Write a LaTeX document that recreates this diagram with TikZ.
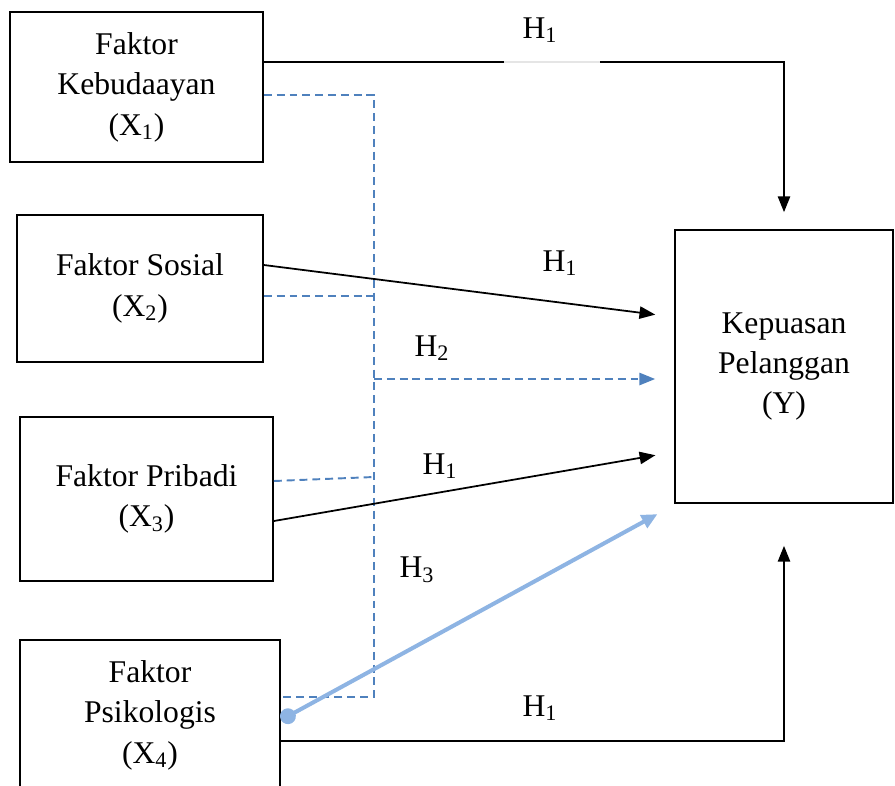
\documentclass[tikz,border=0pt]{standalone}
\usepackage{fontspec}
\setmainfont{Liberation Serif}
\usetikzlibrary{arrows.meta,positioning}
\definecolor{dashblue}{HTML}{4F81BD}
\definecolor{lightblue}{HTML}{8EB4E3}
\tikzset{
  faktor/.style={draw,line width=1pt,align=center,inner sep=0pt,font=\fontsize{18}{23}\selectfont},
  hlabel/.style={font=\fontsize{18}{23}\selectfont,inner sep=1pt},
  link/.style={line width=1pt,-{Triangle[length=9pt,width=7pt]}},
  dashlink/.style={dashblue,line width=1.1pt,dash pattern=on 4.5pt off 2.8pt},
}
\newcommand{\hyp}[1]{H\textsubscript{#1}}
\begin{document}
\begin{tikzpicture}[x=0.02cm,y=-0.02cm]
  \useasboundingbox (0,0) rectangle (895,785);
  \node[faktor,minimum width=5.06cm,minimum height=3cm] (X1) at (136.5,87) {Faktor\\Kebudaayan\\(X\textsubscript{1})};
  \node[faktor,minimum width=4.92cm,minimum height=2.94cm] (X2) at (140,288.5) {Faktor Sosial\\(X\textsubscript{2})};
  \node[faktor,minimum width=5.06cm,minimum height=3.28cm] (X3) at (146.5,499) {Faktor Pribadi\\(X\textsubscript{3})};
  \node[faktor,minimum width=5.2cm,minimum height=3cm] (X4) at (150,715) {Faktor\\Psikologis\\(X\textsubscript{4})};
  \node[faktor,minimum width=4.36cm,minimum height=5.46cm] (Y) at (784,366.5) {Kepuasan\\Pelanggan\\(Y)};
  \node[hlabel] (h1a) at (540,30) {\hyp{1}};
  \node[hlabel] (h1b) at (560,263) {\hyp{1}};
  \node[hlabel] (h2) at (432,348) {\hyp{2}};
  \node[hlabel] (h1c) at (440,466) {\hyp{1}};
  \node[hlabel] (h3) at (417,570) {\hyp{3}};
  \node[hlabel] (h1d) at (540,708) {\hyp{1}};
  \draw[dashlink] (X1.east |- 0,95) -| (374,697) -- (X4.east |- 0,697);
  \draw[dashlink] (X2.east |- 0,296) -- (374,296);
  \draw[dashlink] (X3.east |- 0,481) -- (374,477);
  \draw[dashlink,-{Triangle[length=9pt,width=7pt]},shorten >=0.38cm] (374,379) -- (Y.west |- 0,379);
  \draw[line width=1pt] (X1.east |- 0,62) -- (504,62);
  \draw[gray!20,line width=0.6pt] (504,62) -- (600,62);
  \draw[link,shorten >=0.34cm] (600,62) -| (Y.north);
  \draw[link,shorten >=0.38cm] (X2.east |- 0,265) -- (Y.west |- 0,317);
  \draw[link,shorten >=0.38cm] (X3.east |- 0,521) -- (Y.west |- 0,452);
  \draw[lightblue,line width=2.3pt,{Circle[length=9pt]}-{Triangle[length=9pt,width=8pt]},shorten >=0.38cm] (281,720) -- (Y.west |- 0,505);
  \draw[link,shorten >=0.84cm] (X4.east |- 0,741) -| (Y.south);
\end{tikzpicture}
\end{document}
